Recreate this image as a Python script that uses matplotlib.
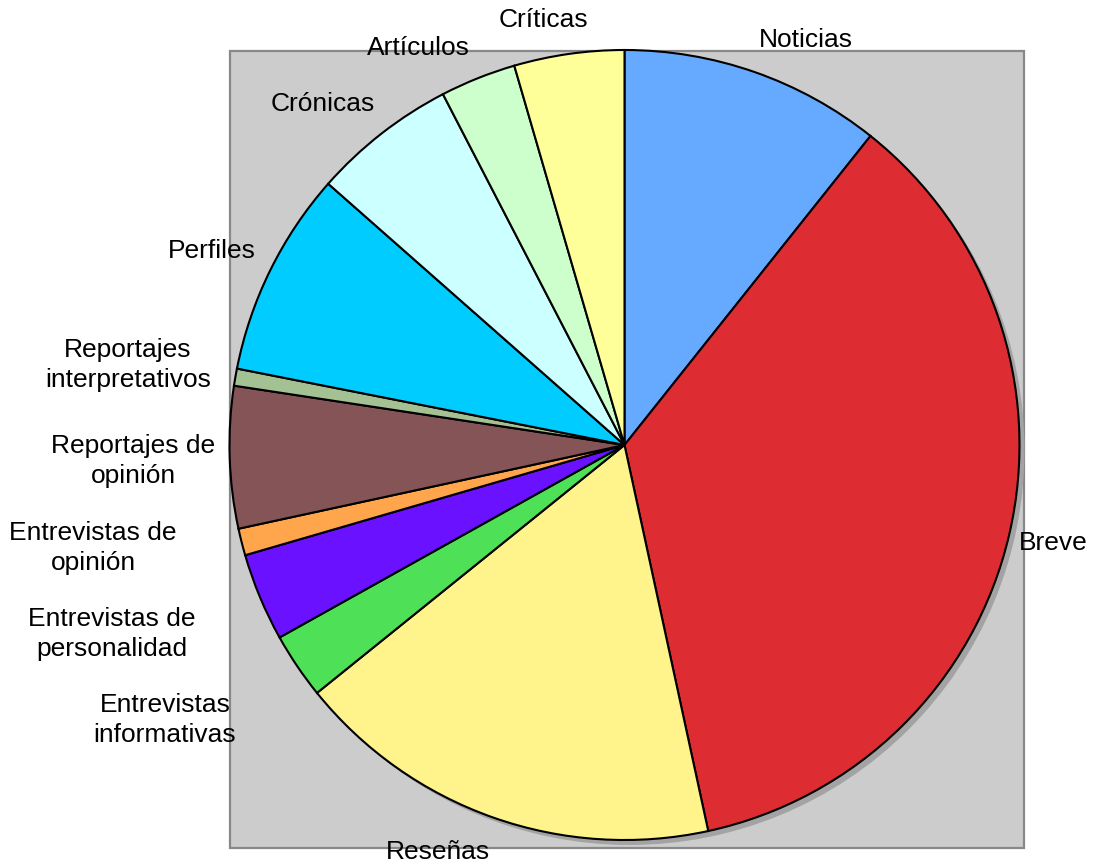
import matplotlib.pyplot as plt
from matplotlib.patches import Rectangle, Circle

# shares of each genre (percent)
genres = ['Noticias', 'Breve', 'Reseñas', 'Entrevistas\ninformativas',
          'Entrevistas de\npersonalidad', 'Entrevistas de\nopinión',
          'Reportajes de\nopinión', 'Reportajes\ninterpretativos', 'Perfiles',
          'Crónicas', 'Artículos', 'Críticas']
shares = [10.7, 35.9, 17.6, 2.7, 3.6, 1.1, 5.8, 0.7, 8.4, 5.9, 3.1, 4.5]
colors = ['#66AAFF', '#DD2D33', '#FFF38C', '#4EE157', '#6A11FF', '#FFA64D',
          '#845456', '#A3C193', '#00CCFF', '#CCFFFF', '#CCFFCC', '#FFFF99']

# label anchors in image pixels (x, y from top)
label_pos = [(806, 40), (1053, 543), (438, 852), (165, 720), (112, 634),
             (93, 548), (133, 461), (128, 365), (212, 251), (323, 104),
             (418, 48), (543, 20)]

plt.rcParams['font.family'] = ['Liberation Sans', 'DejaVu Sans']

fig = plt.figure(figsize=(10.93, 8.64), dpi=100)
ax = fig.add_axes([0, 0, 1, 1])

cx, cy, r = 624.5, 445, 395

# grey plot area
ax.add_patch(Rectangle((230, 51), 794, 797, facecolor='#CCCCCC',
                       edgecolor='#888888', linewidth=1.6, zorder=0))
# drop shadow
ax.add_patch(Circle((cx + 5, cy + 5), r, facecolor='#A3A3A3',
                    edgecolor='none', zorder=0.5))

wedges, _ = ax.pie(shares, colors=colors, startangle=-90, counterclock=True,
                   center=(cx, cy), radius=r, normalize=True,
                   wedgeprops=dict(edgecolor='black', linewidth=1.5,
                                   joinstyle='miter'))

for name, (x, y) in zip(genres, label_pos):
    ax.text(x, y, name, ha='center', va='center', multialignment='center',
            fontsize=19, linespacing=1.35)

ax.set_xlim(0, 1093)
ax.set_ylim(864, 0)
ax.set_aspect('auto')
ax.axis('off')

fig.savefig('out.png', dpi=100)
